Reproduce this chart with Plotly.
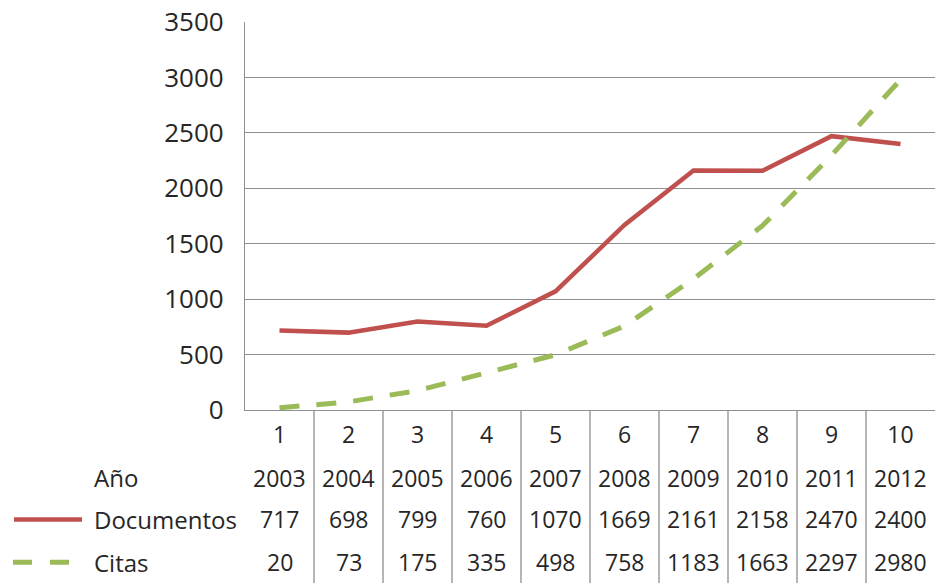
import plotly.graph_objects as go

categories = [1, 2, 3, 4, 5, 6, 7, 8, 9, 10]
years = [2003, 2004, 2005, 2006, 2007, 2008, 2009, 2010, 2011, 2012]
documentos = [717, 698, 799, 760, 1070, 1669, 2161, 2158, 2470, 2400]
citas = [20, 73, 175, 335, 498, 758, 1183, 1663, 2297, 2980]
y_ticks = [0, 500, 1000, 1500, 2000, 2500, 3000, 3500]

RED = "#C0504D"
GREEN = "#9BBB59"
GRID = "#8f8f8f"
TXT = "#262626"
FONT = "Open Sans"
FS = 23

W, H = 938, 584
ML, MR, MT, MB = 245, 3, 20, 174
PLOT_H = H - MT - MB


def py(px):
    """pixel y (from top) -> paper y"""
    return (H - MB - px) / PLOT_H


def pxx(px):
    return (px - ML) / (W - ML - MR)


fig = go.Figure()
fig.add_trace(go.Scatter(x=categories, y=documentos, mode="lines", name="Documentos",
                         line=dict(color=RED, width=4.5), showlegend=False))
fig.add_trace(go.Scatter(x=categories, y=citas, mode="lines", name="Citas",
                         line=dict(color=GREEN, width=5, dash="20px,17px"),
                         showlegend=False))

fig.update_layout(
    width=W, height=H,
    margin=dict(l=ML, r=MR, t=MT, b=MB),
    paper_bgcolor="white", plot_bgcolor="white",
    font=dict(family=FONT, size=FS, color=TXT),
    xaxis=dict(range=[0.5, 10.5], tickvals=categories, ticktext=[str(c) for c in categories],
               showgrid=False, zeroline=False, showline=True, linecolor=GRID, linewidth=1.3,
               ticks="", ticklabelstandoff=4, tickfont=dict(size=FS, color=TXT)),
    yaxis=dict(range=[0, 3500], tickvals=y_ticks, showgrid=True, gridcolor=GRID, gridwidth=1.2,
               zeroline=False, showline=True, linecolor=GRID, linewidth=1.3,
               ticks="", ticklabelstandoff=15, tickfont=dict(size=26, color=TXT)),
)

# table vertical separators
for i in range(1, len(categories)):
    fig.add_shape(type="line", xref="x", yref="paper", x0=i + 0.5, x1=i + 0.5,
                  y0=0, y1=py(H), line=dict(color=GRID, width=1.3))

rows = [("Año", years, 478), ("Documentos", documentos, 520), ("Citas", citas, 563)]
for label, vals, ypx in rows:
    fig.add_annotation(text=label, xref="paper", yref="paper", x=pxx(92), y=py(ypx),
                       xanchor="left", yanchor="middle", showarrow=False,
                       font=dict(size=24, color=TXT))
    for c, v in zip(categories, vals):
        fig.add_annotation(text=str(v), xref="x", yref="paper", x=c, y=py(ypx),
                           xanchor="center", yanchor="middle", showarrow=False,
                           font=dict(size=FS, color=TXT))

# legend keys
fig.add_shape(type="line", xref="paper", yref="paper", x0=pxx(14), x1=pxx(82),
              y0=py(520), y1=py(520), line=dict(color=RED, width=4.5))
fig.add_shape(type="line", xref="paper", yref="paper", x0=pxx(13), x1=pxx(72),
              y0=py(563), y1=py(563), line=dict(color=GREEN, width=5, dash="19px,18px"))

fig.write_html("out.html", config={"displayModeBar": False},
               post_script="document.body.style.margin='0';document.body.style.overflow='hidden';")
